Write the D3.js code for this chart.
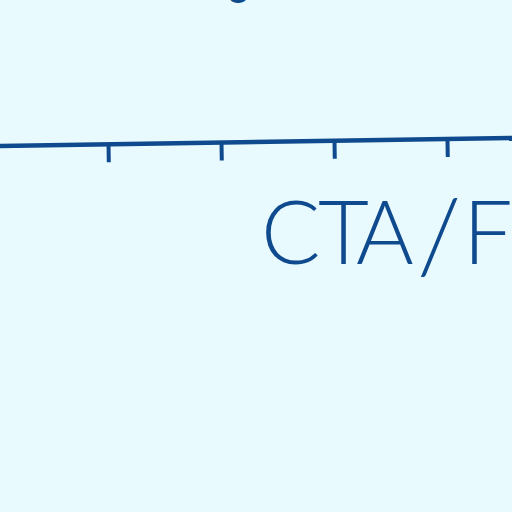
<!DOCTYPE html>
<html>
<head>
<meta charset="utf-8">
<script src="https://cdn.jsdelivr.net/npm/d3@7"></script>
<style>
  html, body { margin: 0; padding: 0; background: #e8fafd; }
  svg { display: block; }
</style>
</head>
<body>
<svg width="512" height="512"></svg>
<script>
const tickValues = [1, 2, 3, 4];
const axisTitle = "CTA/F";
const titleGlyphX = [261, 318, 356, 417, 463];
const topLabel = "o";

const svg = d3.select("svg");
const width = 512, height = 512;
const ink = "#0f4a8e";

svg.append("rect")
    .attr("width", width)
    .attr("height", height)
    .attr("fill", "#e8fafd");

const x = d3.scaleLinear()
    .domain([0, 4])
    .range([-5, 447]);

const g = svg.append("g")
    .attr("transform", "rotate(-0.9, 256, 142)");

// axis baseline runs across the whole crop
g.append("line")
    .attr("x1", -10)
    .attr("x2", width + 10)
    .attr("y1", 142)
    .attr("y2", 142)
    .attr("stroke", ink)
    .attr("stroke-width", 4.5);

const axis = d3.axisBottom(x)
    .tickValues(tickValues)
    .tickSize(18)
    .tickFormat("");

const axisG = g.append("g")
    .attr("transform", "translate(0,142)")
    .call(axis);

axisG.select(".domain").remove();
axisG.selectAll(".tick line")
    .attr("stroke", ink)
    .attr("stroke-width", 4);

const title = svg.append("text")
    .attr("y", 264)
    .attr("fill", ink)
    .style("font-family", "Lato, 'Open Sans', sans-serif")
    .style("font-size", "88px")
    .style("font-weight", 300);

title.selectAll("tspan")
    .data(axisTitle.split(""))
    .enter().append("tspan")
    .attr("x", (d, i) => titleGlyphX[i])
    .attr("y", d => d === "/" ? 273 : 264)
    .style("font-size", d => d === "/" ? "102px" : null)
    .text(d => d);

// bottom of a label cut off by the top edge
svg.append("text")
    .attr("x", 238)
    .attr("y", 3)
    .attr("text-anchor", "middle")
    .attr("fill", ink)
    .style("font-family", "Lato, sans-serif")
    .style("font-size", "40px")
    .style("font-weight", 700)
    .text(topLabel);
</script>
</body>
</html>
